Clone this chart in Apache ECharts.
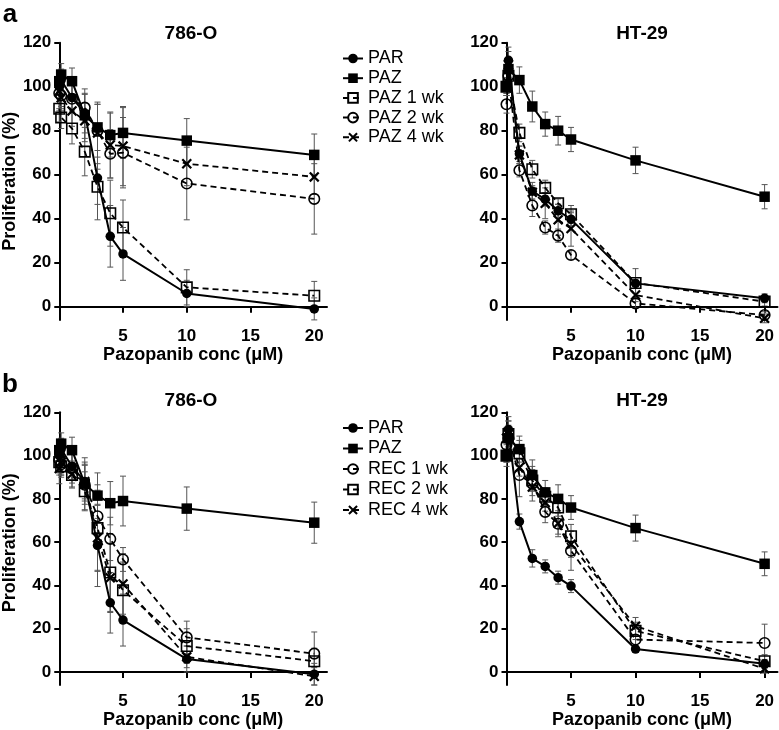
<!DOCTYPE html>
<html><head><meta charset="utf-8">
<script src="https://cdn.jsdelivr.net/npm/echarts@6/dist/echarts.min.js"></script>
<style>html,body{margin:0;padding:0;background:#fff}#c{width:779px;height:730px}</style>
</head><body><div id="c"></div>
<script>
// concentrations (µM)
const conc = [0, 0.15, 1, 2, 3, 4, 5, 10, 20];
const xTicks = [5, 10, 15, 20];
const yTicks = [0, 20, 40, 60, 80, 100, 120];

// Panel a, 786-O
const a786_PAR  = [100, 103, 95, 88, 58.5, 32, 24, 6, -1];
const a786_PAZ  = [102.5, 105.5, 102.5, 87, 81.5, 78, 79, 75.5, 69];
const a786_PAZ1 = [90, 86, 81, 70.5, 54.5, 42.5, 36, 8.8, 5];
const a786_PAZ2 = [97, 96, 94.5, 90.5, 80, 69.5, 70, 56, 49];
const a786_PAZ4 = [98, 95, 89, 84.5, 79, 73.5, 73, 65, 59];
const a786_PAR_sd  = [4, 5, 6, 9, 19, 14, 12, 6, 5];
const a786_PAZ_sd  = [5, 5, 6, 12, 10.5, 10, 11.5, 10, 9.5];
const a786_PAZ1_sd = [6, 5, 7, 11, 8, 15, 12.5, 8, 6.5];
const a786_PAZ2_sd = [8, 6, 6, 6, 12, 11, 16, 16.5, 16];
const a786_PAZ4_sd = [8, 6, 7, 8, 14, 15, 18, 10, 8];

// Panel a, HT-29
const aHT_PAR  = [100, 112, 69.5, 52.5, 48.8, 43.6, 39.7, 10.6, 3.8];
const aHT_PAZ  = [100, 108, 103, 91, 83, 80, 76, 66.5, 50];
const aHT_PAZ1 = [100, 105, 79, 62.5, 54, 47, 42, 10.8, 2.3];
const aHT_PAZ2 = [92, 105, 62, 46, 36, 32.3, 23.5, 1.5, -3.8];
const aHT_PAZ4 = [100, 110, 69, 52, 47, 39.5, 35.5, 5.3, -5.3];
const aHT_PAR_sd  = [3, 6, 3.5, 4, 3, 3, 3, 1.5, 2];
const aHT_PAZ_sd  = [3, 5, 6, 7, 5.5, 6.5, 5.5, 6, 5.5];
const aHT_PAZ1_sd = [4, 6, 4, 4, 3.5, 2, 4, 6.5, 2];
const aHT_PAZ2_sd = [4, 6, 3, 5, 3, 3, 2, 2, 1.5];
const aHT_PAZ4_sd = [4, 6, 4, 3, 7, 7, 8, 3, 2];

// Panel b, 786-O
const b786_PAR  = [100, 103, 95, 88, 58.5, 32, 24, 6, -1];
const b786_PAZ  = [102.5, 105.5, 102.5, 87, 81.5, 78, 79, 75.5, 69];
const b786_REC1 = [98, 96, 94.3, 86.5, 72, 61.5, 52, 16, 8.5];
const b786_REC2 = [97, 95, 91, 83.5, 66.5, 46, 37.8, 12, 5];
const b786_REC4 = [94, 97, 91.5, 88, 62, 43.5, 40.7, 7, -2];
const b786_PAR_sd  = [4, 5, 6, 9, 19, 14, 12, 6, 5];
const b786_PAZ_sd  = [5, 5, 6, 12, 10.5, 10, 11.5, 10, 9.5];
const b786_REC1_sd = [6, 5, 7, 9, 12, 10, 5.5, 7.5, 10];
const b786_REC2_sd = [6, 5, 6, 9, 20, 18, 13, 8, 6];
const b786_REC4_sd = [7, 6, 6, 8, 15, 16, 14, 5, 4];

// Panel b, HT-29
const bHT_PAR  = [100, 112, 69.5, 52.5, 48.8, 43.6, 39.7, 10.6, 3.8];
const bHT_PAZ  = [100, 108, 103, 91, 83, 80, 76, 66.5, 50];
const bHT_REC1 = [105, 108, 91, 87, 74, 68.5, 56, 15, 13.4];
const bHT_REC2 = [100, 110, 101, 88.5, 81, 76, 62.7, 19, 5];
const bHT_REC4 = [108, 110, 94.5, 85.5, 78.3, 68.7, 59, 21.2, 1.5];
const bHT_PAR_sd  = [3, 6, 3.5, 4, 3, 3, 3, 1.5, 2];
const bHT_PAZ_sd  = [3, 5, 6, 7, 5.5, 6.5, 5.5, 6, 5.5];
const bHT_REC1_sd = [5, 6, 10, 8, 5, 6, 9, 5, 8.7];
const bHT_REC2_sd = [5, 6, 6, 5, 4, 4, 5.5, 4, 3];
const bHT_REC4_sd = [5, 6, 4, 4, 4, 5, 6, 4, 2];

const FONT = "'Liberation Sans', Arial, Helvetica, sans-serif";
const CROSS = 'path://M1.5,0L5,3.5L8.5,0L10,1.5L6.5,5L10,8.5L8.5,10L5,6.5L1.5,10L0,8.5L3.5,5L0,1.5Z';

const STY = {
  filledCircle: {symbol: 'circle', symbolSize: 9.5, itemStyle: {color: '#000'}, lineStyle: {color: '#000', width: 2, type: 'solid'}},
  filledSquare: {symbol: 'rect', symbolSize: 10.5, itemStyle: {color: '#000'}, lineStyle: {color: '#000', width: 2, type: 'solid'}},
  openSquare: {symbol: 'rect', symbolSize: 10.5, itemStyle: {color: 'rgba(255,255,255,0)', borderColor: '#000', borderWidth: 1.6}, lineStyle: {color: '#000', width: 1.8, type: [6, 4]}},
  openCircle: {symbol: 'circle', symbolSize: 10.5, itemStyle: {color: 'rgba(255,255,255,0)', borderColor: '#000', borderWidth: 1.6}, lineStyle: {color: '#000', width: 1.8, type: [6, 4]}},
  cross: {symbol: CROSS, symbolSize: 10.5, itemStyle: {color: '#000'}, lineStyle: {color: '#000', width: 1.8, type: [6, 4]}}
};

const panels = [
  {g: 0, series: [
    ['PAR', a786_PAR, a786_PAR_sd, 'filledCircle'],
    ['PAZ', a786_PAZ, a786_PAZ_sd, 'filledSquare'],
    ['PAZ 1 wk', a786_PAZ1, a786_PAZ1_sd, 'openSquare'],
    ['PAZ 2 wk', a786_PAZ2, a786_PAZ2_sd, 'openCircle'],
    ['PAZ 4 wk', a786_PAZ4, a786_PAZ4_sd, 'cross']]},
  {g: 1, series: [
    ['PAR', aHT_PAR, aHT_PAR_sd, 'filledCircle'],
    ['PAZ', aHT_PAZ, aHT_PAZ_sd, 'filledSquare'],
    ['PAZ 1 wk', aHT_PAZ1, aHT_PAZ1_sd, 'openSquare'],
    ['PAZ 2 wk', aHT_PAZ2, aHT_PAZ2_sd, 'openCircle'],
    ['PAZ 4 wk', aHT_PAZ4, aHT_PAZ4_sd, 'cross']]},
  {g: 2, series: [
    ['PAR', b786_PAR, b786_PAR_sd, 'filledCircle'],
    ['PAZ', b786_PAZ, b786_PAZ_sd, 'filledSquare'],
    ['REC 1 wk', b786_REC1, b786_REC1_sd, 'openCircle'],
    ['REC 2 wk', b786_REC2, b786_REC2_sd, 'openSquare'],
    ['REC 4 wk', b786_REC4, b786_REC4_sd, 'cross']]},
  {g: 3, series: [
    ['PAR', bHT_PAR, bHT_PAR_sd, 'filledCircle'],
    ['PAZ', bHT_PAZ, bHT_PAZ_sd, 'filledSquare'],
    ['REC 1 wk', bHT_REC1, bHT_REC1_sd, 'openCircle'],
    ['REC 2 wk', bHT_REC2, bHT_REC2_sd, 'openSquare'],
    ['REC 4 wk', bHT_REC4, bHT_REC4_sd, 'cross']]}
];

const grids = [
  {left: 56, top: 42.7, width: 271, height: 277.2},
  {left: 506.5, top: 42.7, width: 271, height: 277.2},
  {left: 56, top: 412.3, width: 271, height: 276.9},
  {left: 506.5, top: 412.3, width: 271, height: 276.9}
];

const axisLineStyle = {color: '#000', width: 2};
const xAxes = grids.map((g, i) => ({
  type: 'value', gridIndex: i, min: 0, max: 21,
  axisLine: {show: true, onZero: true, lineStyle: axisLineStyle},
  axisTick: {show: true, customValues: xTicks, length: 6, lineStyle: {color: '#000', width: 2}},
  axisLabel: {customValues: xTicks, margin: 8, fontSize: 17, fontWeight: 'bold', color: '#000', fontFamily: FONT},
  splitLine: {show: false},
  name: 'Pazopanib conc (\u03bcM)', nameLocation: 'middle', nameGap: 26,
  nameTextStyle: {fontSize: 18, fontWeight: 'bold', color: '#000', fontFamily: FONT}
}));
const yAxes = grids.map((g, i) => ({
  type: 'value', gridIndex: i, min: -6, max: 120,
  axisLine: {show: true, onZero: false, lineStyle: axisLineStyle},
  axisTick: {show: true, customValues: yTicks, length: 5, lineStyle: {color: '#000', width: 2}},
  axisLabel: {customValues: yTicks, margin: 8, fontSize: 17, fontWeight: 'bold', color: '#000', fontFamily: FONT},
  splitLine: {show: false},
  name: (i % 2 === 0) ? 'Proliferation (%)' : '', nameLocation: 'middle', nameGap: 38,
  nameTextStyle: {fontSize: 18, fontWeight: 'bold', color: '#000', fontFamily: FONT,
    padding: i === 2 ? [0, 0, 0, 12] : 0}
}));

function errRender(params, api) {
  const x = api.value(0), y = api.value(1), e = api.value(2);
  const t = api.coord([x, y + e]), b = api.coord([x, y - e]);
  const hw = 3, st = {stroke: '#555', lineWidth: 1};
  return {type: 'group', children: [
    {type: 'line', shape: {x1: t[0], y1: t[1], x2: b[0], y2: b[1]}, style: st},
    {type: 'line', shape: {x1: t[0] - hw, y1: t[1], x2: t[0] + hw, y2: t[1]}, style: st},
    {type: 'line', shape: {x1: b[0] - hw, y1: b[1], x2: b[0] + hw, y2: b[1]}, style: st}
  ]};
}

const series = [];
panels.forEach(p => {
  p.series.forEach(([name, vals, sds, sty]) => {
    series.push({
      type: 'custom', xAxisIndex: p.g, yAxisIndex: p.g, z: 1, silent: true,
      renderItem: errRender,
      data: conc.map((x, i) => [x, vals[i], sds[i]])
    });
  });
  p.series.forEach(([name, vals, sds, sty]) => {
    const s = STY[sty];
    series.push({
      type: 'line', name: name, xAxisIndex: p.g, yAxisIndex: p.g, z: 3,
      symbol: s.symbol, symbolSize: s.symbolSize, showSymbol: true,
      itemStyle: s.itemStyle, lineStyle: s.lineStyle,
      data: conc.map((x, i) => [x, vals[i]])
    });
  });
});

const legendCommon = {
  orient: 'vertical', left: 337, itemWidth: 20, itemHeight: 12, selectedMode: false,
  textStyle: {fontSize: 18, color: '#000', fontFamily: FONT, lineHeight: 12}
};

const graphic = [];
function addText(txt, x, y, size) {
  graphic.push({type: 'text', x: x, y: y, silent: true,
    style: {text: txt, font: 'bold ' + size + 'px ' + FONT, fill: '#000',
      textAlign: 'center', textVerticalAlign: 'middle', align: 'center', verticalAlign: 'middle'}});
}
addText('a', 10, 15, 26);
addText('b', 10, 385, 26);
addText('786-O', 191, 33.5, 19);
addText('HT-29', 642, 33.5, 19);
addText('786-O', 191, 400.5, 19);
addText('HT-29', 642, 400.5, 19);

const chart = echarts.init(document.getElementById('c'));
chart.setOption({
  animation: false,
  backgroundColor: '#fff',
  grid: grids,
  xAxis: xAxes,
  yAxis: yAxes,
  legend: [
    Object.assign({}, legendCommon, {top: 44.5, itemGap: 1.7, data: ['PAR', 'PAZ', 'PAZ 1 wk', 'PAZ 2 wk', 'PAZ 4 wk']}),
    Object.assign({}, legendCommon, {top: 414, itemGap: 2.5, data: ['PAR', 'PAZ', 'REC 1 wk', 'REC 2 wk', 'REC 4 wk']})
  ],
  graphic: graphic,
  series: series
});
</script></body></html>
